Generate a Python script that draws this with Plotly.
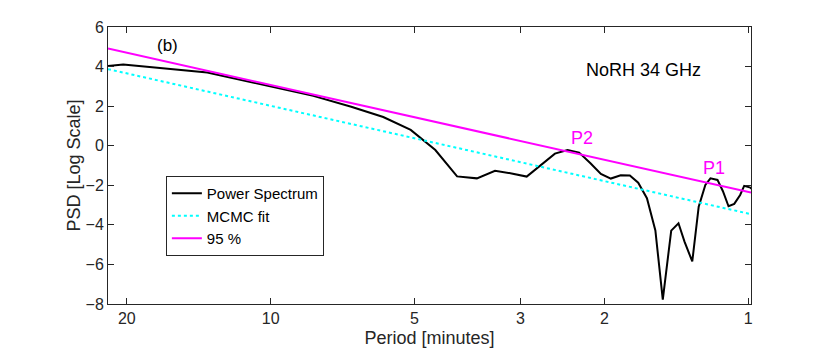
import math

import plotly.graph_objects as go

# Fourier periods (minutes) of the spectrum and log PSD values
periods = [
    40.70, 20.35, 13.57, 10.18, 8.14, 6.78, 5.81, 5.09, 4.52, 4.07,
    3.70, 3.39, 3.13, 2.91, 2.71, 2.54, 2.39, 2.26, 2.14, 2.035,
    1.94, 1.85, 1.77, 1.70, 1.63, 1.565, 1.51, 1.45, 1.40, 1.36,
    1.31, 1.27, 1.23, 1.20, 1.16, 1.13, 1.10, 1.07, 1.04, 1.02,
    0.99, 0.97,
]
psd = [
    3.44, 4.10, 3.70, 3.03, 2.52, 1.97, 1.45, 0.80, -0.22, -1.55,
    -1.65, -1.27, -1.40, -1.56, -0.97, -0.40, -0.22, -0.35, -0.89, -1.43,
    -1.66, -1.49, -1.51, -1.87, -2.65, -4.28, -7.78, -4.29, -3.92, -4.85,
    -5.85, -3.08, -1.98, -1.65, -1.73, -2.30, -3.06, -2.94, -2.49, -2.03,
    -2.12, -2.30,
]

# power-law fit and 95 % level (straight in log-log)
fit_periods = [21.9, 0.987]
mcmc_fit = [3.87, -3.46]
level_95 = [4.91, -2.37]

tick_periods = [20, 10, 5, 3, 2, 1]
tick_labels = ["20", "10", "5", "3", "2", "1"]

axis_col = "#262626"
font = "Liberation Sans, Arial, sans-serif"

fig = go.Figure()
fig.add_trace(go.Scatter(
    x=periods, y=psd, mode="lines", name="Power Spectrum",
    line=dict(color="black", width=2),
))
fig.add_trace(go.Scatter(
    x=fit_periods, y=mcmc_fit, mode="lines", name="MCMC fit",
    line=dict(color="#00FFFF", width=2, dash="dot"),
))
fig.add_trace(go.Scatter(
    x=fit_periods, y=level_95, mode="lines", name="95 %",
    line=dict(color="#FF00FF", width=2),
))

fig.add_annotation(x=0.093, y=0.934, xref="paper", yref="paper", text="(b)",
                   xanchor="center", yanchor="middle",
                   showarrow=False, font=dict(size=17, color="black"))
fig.add_annotation(x=0.833, y=0.846, xref="paper", yref="paper", text="NoRH 34 GHz",
                   xanchor="center", yanchor="middle",
                   showarrow=False, font=dict(size=18, color="black"))
fig.add_annotation(x=math.log10(2.23), y=0.37, text="P2", showarrow=False,
                   xanchor="center", yanchor="middle",
                   font=dict(size=18, color="#FF00FF"))
fig.add_annotation(x=math.log10(1.178), y=-1.14, text="P1", showarrow=False,
                   xanchor="center", yanchor="middle",
                   font=dict(size=18, color="#FF00FF"))

# the page body has an 8px margin, so the figure is 814x340 placed at (8, 8)
fig.update_layout(
    width=814,
    height=340,
    autosize=False,
    margin=dict(l=100, r=71, t=19, b=44),
    plot_bgcolor="white",
    paper_bgcolor="white",
    font=dict(family=font, size=16, color=axis_col),
    legend=dict(
        x=0.090, y=0.462, xanchor="left", yanchor="top",
        bgcolor="white", bordercolor=axis_col, borderwidth=1,
        font=dict(size=15, color="black"), itemwidth=30,
        tracegroupgap=0,
    ),
)
fig.update_xaxes(
    type="log",
    range=[math.log10(21.9), math.log10(0.987)],
    tickvals=tick_periods,
    ticktext=tick_labels,
    ticks="inside", ticklen=6, tickcolor=axis_col,
    showline=True, linecolor=axis_col, linewidth=1, mirror="ticks",
    showgrid=False, zeroline=False, automargin=False,
    title=dict(text="Period [minutes]", standoff=9, font=dict(size=18)),
)
fig.update_yaxes(
    range=[-8, 6],
    dtick=2,
    ticks="inside", ticklen=6, tickcolor=axis_col,
    showline=True, linecolor=axis_col, linewidth=1, mirror="ticks",
    showgrid=False, zeroline=False, automargin=False,
    title=dict(text="PSD [Log Scale]", standoff=0, font=dict(size=18)),
)

fig.write_html("out.html")
